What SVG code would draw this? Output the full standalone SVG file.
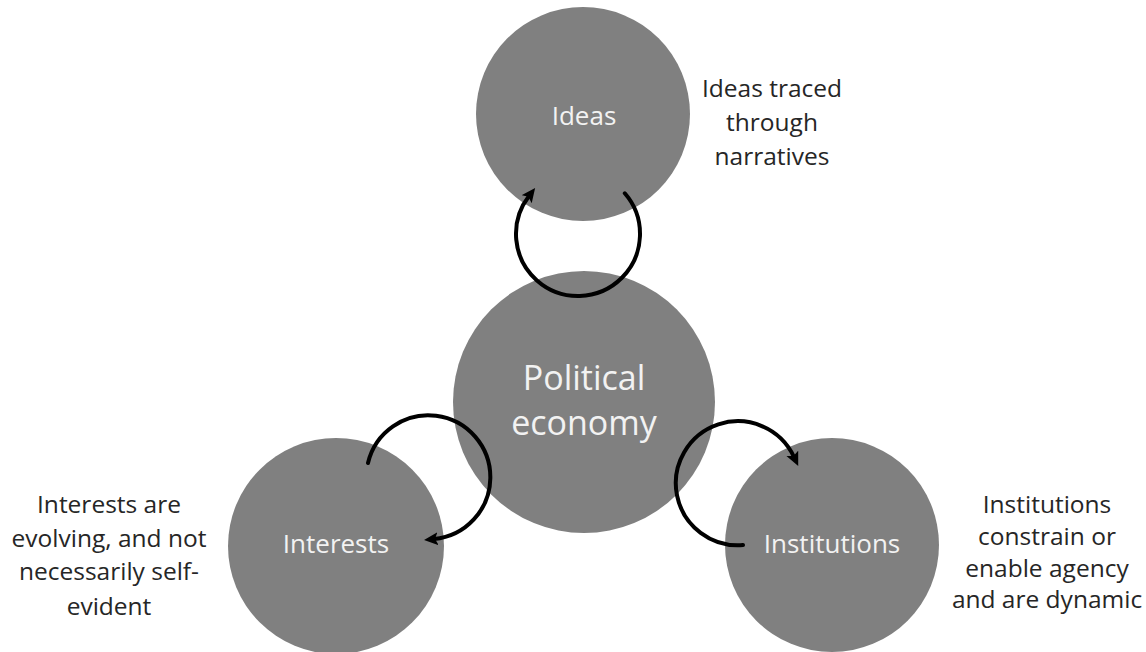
<svg xmlns="http://www.w3.org/2000/svg" width="1146" height="652" viewBox="0 0 1146 652">
  <defs>
    <marker id="arrow" markerUnits="userSpaceOnUse" markerWidth="16" markerHeight="14" refX="4" refY="6.5" orient="auto">
      <path d="M0,0 L14,6.5 L0,13 L3,6.5 z" fill="#000"/>
    </marker>
    <style>
      .node { fill: #808080; }
      .inner { font-family: "Open Sans", "Liberation Sans", sans-serif; fill: #f2f2f2; text-anchor: middle; }
      .label { font-family: "Open Sans", "Liberation Sans", sans-serif; fill: #262626; text-anchor: middle; font-size: 24.5px; }
      .loop { fill: none; stroke: #000; stroke-width: 4; stroke-linecap: round; marker-end: url(#arrow); }
    </style>
  </defs>
  <rect width="1146" height="652" fill="#fff"/>

  <g id="node-ideas">
    <circle class="node" cx="583" cy="114" r="107"/>
    <text class="inner" x="584" y="125" font-size="26">Ideas</text>
  </g>
  <g id="node-political-economy">
    <circle class="node" cx="584" cy="402" r="131"/>
    <text class="inner" x="584" y="390" font-size="34">Political</text>
    <text class="inner" x="584" y="435" font-size="34">economy</text>
  </g>
  <g id="node-interests">
    <circle class="node" cx="336" cy="546" r="108"/>
    <text class="inner" x="336" y="553" font-size="26">Interests</text>
  </g>
  <g id="node-institutions">
    <circle class="node" cx="832" cy="545" r="107"/>
    <text class="inner" x="832" y="553" font-size="26">Institutions</text>
  </g>

  <g id="label-ideas">
    <text class="label" x="772" y="97">Ideas traced</text>
    <text class="label" x="772" y="131">through</text>
    <text class="label" x="772" y="165">narratives</text>
  </g>
  <g id="label-interests">
    <text class="label" x="109" y="513">Interests are</text>
    <text class="label" x="109" y="547">evolving, and not</text>
    <text class="label" x="109" y="580">necessarily self-</text>
    <text class="label" x="109" y="615">evident</text>
  </g>
  <g id="label-institutions">
    <text class="label" x="1047" y="513">Institutions</text>
    <text class="label" x="1047" y="545">constrain or</text>
    <text class="label" x="1047" y="577">enable agency</text>
    <text class="label" x="1047" y="608">and are dynamic</text>
  </g>

  <g id="connectors">
    <path class="loop" d="M 624.8 193.3 A 62 62 0 1 1 529 196"/>
    <path class="loop" d="M 368 463 A 62 62 0 1 1 434 539"/>
    <path class="loop" d="M 743 545 A 62 62 0 1 1 794 457"/>
  </g>
</svg>
